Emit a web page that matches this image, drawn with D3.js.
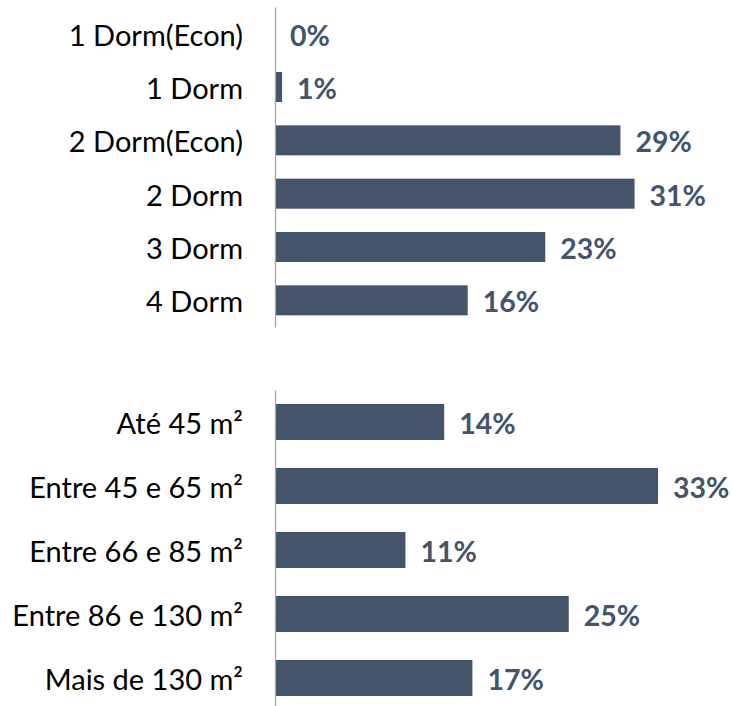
<!DOCTYPE html>
<html>
<head>
<meta charset="utf-8">
<script src="https://cdn.jsdelivr.net/npm/d3@7"></script>
<style>
  html, body { margin: 0; padding: 0; background: #fff; }
  svg { display: block; }
</style>
</head>
<body>
<svg id="chart" width="732" height="706"></svg>
<script>
// ---- data ----
const dormCategories = ["1 Dorm(Econ)", "1 Dorm", "2 Dorm(Econ)", "2 Dorm", "3 Dorm", "4 Dorm"];
const dormValues = [0, 0.6, 29.4, 30.6, 23.0, 16.4];
const areaCategories = ["Até 45 m²", "Entre 45 e 65 m²", "Entre 66 e 85 m²", "Entre 86 e 130 m²", "Mais de 130 m²"];
const areaValues = [14.4, 32.6, 11.1, 25.0, 16.8];

// ---- styles ----
const barColor = "#44546A";
const axisColor = "#A6A6A6";
const fontFamily = "Lato, 'Open Sans', sans-serif";

const svg = d3.select("#chart");
const axisX = 275;
const x = d3.scaleLinear().domain([0, 35]).range([axisX, axisX + 35 * 11.75]);

function panel(categories, values, y0, y1) {
  const y = d3.scaleBand()
    .domain(categories)
    .range([y0, y1])
    .paddingInner(0.4375)
    .paddingOuter(0.21875);

  const g = svg.append("g");

  // bars
  g.selectAll("rect.bar")
    .data(values)
    .enter().append("rect")
    .attr("class", "bar")
    .attr("x", x(0) + 1)
    .attr("y", (d, i) => y(categories[i]))
    .attr("width", d => Math.max(0, x(d) - x(0) - 1))
    .attr("height", y.bandwidth())
    .attr("fill", barColor);

  // value labels
  g.selectAll("text.val")
    .data(values)
    .enter().append("text")
    .attr("class", "val")
    .attr("x", d => x(d) + 15)
    .attr("y", (d, i) => y(categories[i]) + y.bandwidth() / 2 + 2)
    .attr("dy", "0.35em")
    .attr("fill", barColor)
    .attr("font-family", fontFamily)
    .attr("font-weight", "bold")
    .attr("font-size", 28.5)
    .text(d => Math.round(d) + "%");

  // axis with category labels
  const ax = g.append("g")
    .attr("transform", `translate(${axisX},0)`)
    .call(d3.axisLeft(y).tickSize(0).tickSizeOuter(0).tickPadding(32));
  ax.select(".domain").attr("stroke", axisColor).attr("stroke-width", 1.3);
  ax.selectAll(".tick text")
    .attr("fill", "#000")
    .attr("font-family", fontFamily)
    .attr("font-size", 29)
    .attr("dy", "0.35em")
    .attr("transform", "translate(0,2)");
}

panel(dormCategories, dormValues, 7, 327);
panel(areaCategories, areaValues, 390, 710);
</script>
</body>
</html>
